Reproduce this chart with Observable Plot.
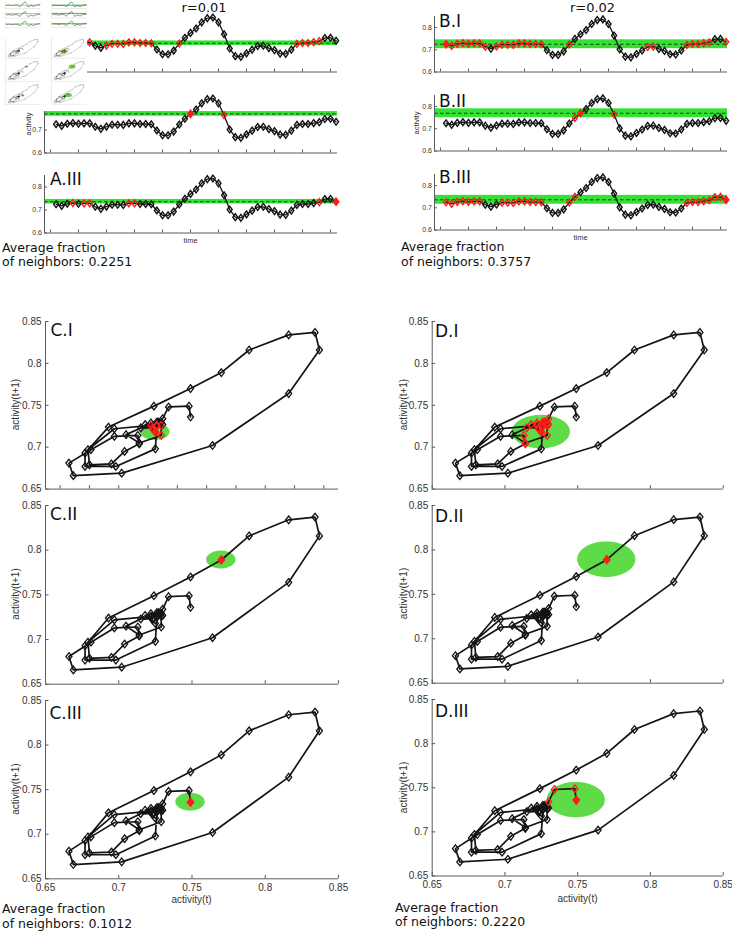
<!DOCTYPE html>
<html>
<head>
<meta charset="utf-8">
<script src="https://cdn.jsdelivr.net/npm/d3@7"></script>
<script src="https://cdn.jsdelivr.net/npm/@observablehq/plot@0.6"></script>
<style>
  html, body { margin: 0; padding: 0; background: #fff; }
  #fig { position: relative; width: 732px; height: 933px; overflow: hidden; background: #fff; }
</style>
</head>
<body>
<div id="fig"></div>
<script>
// ---------------- DATA ----------------
const activity = [0.725,0.718,0.727,0.730,0.727,0.729,0.729,0.714,0.705,0.715,
                  0.723,0.723,0.722,0.729,0.729,0.726,0.726,0.725,0.698,0.677,
                  0.677,0.693,0.724,0.749,0.770,0.789,0.816,0.834,0.837,0.816,
                  0.764,0.702,0.669,0.666,0.681,0.697,0.713,0.714,0.704,0.695,
                  0.680,0.679,0.697,0.722,0.726,0.726,0.730,0.734,0.748,0.749,0.736];
const radii = [0.01, 0.02];
const columnTitles = ["r=0.01", "r=0.02"];
const tsColumnLetters = ["A", "B"];
const phaseColumnLetters = ["C", "D"];
const rowNumerals = ["I", "II", "III"];
const tsReference = [0, 24, 50];      // reference point of each time-series row
const phaseReference = [0, 24, 49];   // reference point of each phase-plot row
const tsNeighbors = [
  [[0,1,2,3,4,5,6,9,10,11,12,13,14,15,16,17,22,43,44,45,46,47],
   [24,30],
   [3,5,6,13,14,47,50]],
  [[0,1,2,3,4,5,6,7,9,10,11,12,13,14,15,16,17,22,36,37,43,44,45,46,47,50],
   [23,24,30],
   [0,1,2,3,4,5,6,10,11,12,13,14,15,16,17,22,23,43,44,45,46,47,48,49,50]]
];
const tsAverageFraction = ["0.2251", "0.3757"];
const phaseAverageFraction = ["0.1012", "0.2220"];
const timeTicks = [0,5,10,15,20,25,30,35,40,45,50];
const tsYTicks = [0.6, 0.7, 0.8];
const phaseTicks = [0.65, 0.7, 0.75, 0.8, 0.85];
const phaseMinorTicks = [0.66, 0.68, 0.7, 0.72, 0.74, 0.76, 0.78, 0.8, 0.82, 0.84];

// ---------------- LAYOUT ----------------
const fig = document.getElementById("fig");
const SANS = "'DejaVu Sans', sans-serif";
const ARIAL = "'Liberation Sans', Arial, sans-serif";
const GREEN_BAND = "#33e233", GREEN_ELL = "#5edb47", RED = "#ff1a1a", INK = "#141414", AXIS = "#5a5a5a";

const tsXFrame = [[44, 337], [434, 727]];
const tsYFrame = [
  [{top: 13.5, bottom: 71}, {top: 95.2, bottom: 152.7}, {top: 175.2, bottom: 232.7}],
  [{top: 15.5, bottom: 71}, {top: 95.2, bottom: 150.7}, {top: 173.8, bottom: 229.3}]
];
const phXFrame = [[45, 338], [431.7, 722.7]];
const phYFrame = [
  [{top: 320.7, bottom: 488.3}, {top: 504.6, bottom: 683.3}, {top: 700, bottom: 878.3}],
  [{top: 320.7, bottom: 488.3}, {top: 504.6, bottom: 682.3}, {top: 699.2, bottom: 875.7}]
];
const tsXDomain = [-1.07, 51.25];

const diamondTS = {draw(ctx, size) { const r = Math.sqrt(size / Math.PI), w = r * 0.74;
  ctx.moveTo(0, -r); ctx.lineTo(w, 0); ctx.lineTo(0, r); ctx.lineTo(-w, 0); ctx.closePath(); }};
const diamondPh = {draw(ctx, size) { const r = Math.sqrt(size / Math.PI), w = r * 0.8;
  ctx.moveTo(0, -r); ctx.lineTo(w, 0); ctx.lineTo(0, r); ctx.lineTo(-w, 0); ctx.closePath(); }};

function place(svg, left, top) {
  svg.style.position = "absolute";
  svg.style.left = left + "px";
  svg.style.top = top + "px";
  fig.appendChild(svg);
}
const plotStyle = {background: "transparent", overflow: "visible", fontFamily: ARIAL, color: "#333"};

function tsPanel(col, row) {
  const colLeft = col * 366;
  const [fl, fr] = tsXFrame[col];
  const {top, bottom} = tsYFrame[col][row];
  const mt = 6, mb = 16;
  const r = radii[col];
  const ref = tsReference[row];
  const c = activity[ref];
  const nb = new Set(tsNeighbors[col][row]);
  const data = activity.map((v, i) => ({t: i + 1, v, i}));
  const x0 = tsXDomain[0];
  const svg = Plot.plot({
    width: 366, height: bottom - top + mt + mb,
    marginLeft: fl - colLeft, marginRight: colLeft + 366 - fr, marginTop: mt, marginBottom: mb,
    x: {domain: tsXDomain, axis: null},
    y: {domain: [0.6, 0.85]},
    style: plotStyle,
    marks: [
      Plot.rect([c], {x1: tsXDomain[0], x2: tsXDomain[1], y1: d => d - r, y2: d => d + r, fill: GREEN_BAND}),
      Plot.ruleY([c], {stroke: INK, strokeWidth: 0.8, strokeDasharray: "3.5,2.5"}),
      Plot.line(data, {x: "t", y: "v", stroke: INK, strokeWidth: 1.3}),
      Plot.dot(data.filter(d => !nb.has(d.i) && d.i !== ref), {x: "t", y: "v", symbol: diamondTS, r: 3.4, stroke: INK, strokeWidth: 1.4, fill: "none"}),
      Plot.dot(data.filter(d => nb.has(d.i) && d.i !== ref), {x: "t", y: "v", symbol: diamondTS, r: 3.4, stroke: RED, strokeWidth: 1.4, fill: "none"}),
      Plot.dot(data.filter(d => d.i === ref), {x: "t", y: "v", symbol: diamondTS, r: 3.6, stroke: RED, fill: RED}),
      Plot.ruleY([0.6], {stroke: AXIS, strokeWidth: 1}),
      Plot.ruleX([x0], {stroke: AXIS, strokeWidth: 1}),
      Plot.ruleX(timeTicks, {y1: 0.6, y2: 0.6, insetTop: -3, stroke: AXIS}),
      Plot.ruleY(tsYTicks, {x1: x0, x2: x0, insetRight: -3, stroke: AXIS}),
      Plot.axisY(tsYTicks, {tickSize: 0, tickPadding: 2.5, fontSize: 7, label: null, tickFormat: d => String(d)})
    ]
  });
  place(svg, colLeft, top - mt);
}

function phasePanel(col, row) {
  const colLeft = col * 366;
  const [fl, fr] = phXFrame[col];
  const {top, bottom} = phYFrame[col][row];
  const mt = 6, mb = 18;
  const r = radii[col];
  const pts = activity.slice(0, -1).map((v, i) => ({i, x: v, y: activity[i + 1]}));
  const refI = phaseReference[row];
  const cp = pts[refI];
  const near = d => d.i !== refI && Math.hypot(d.x - cp.x, d.y - cp.y) <= r;
  const ell = d3.range(0, 73).map(k => { const a = Math.PI * k / 72;
    return {x: cp.x + r * Math.cos(a), y1: cp.y - r * Math.sin(a), y2: cp.y + r * Math.sin(a)}; });
  const xt = (col === 0 && row === 0) ? phaseMinorTicks : phaseTicks;
  const marks = [
    Plot.areaY(ell, {x: "x", y1: "y1", y2: "y2", fill: GREEN_ELL}),
    Plot.line(pts, {x: "x", y: "y", stroke: INK, strokeWidth: 1.7}),
    Plot.dot(pts.filter(d => !near(d) && d.i !== refI), {x: "x", y: "y", symbol: diamondPh, r: 3.8, stroke: INK, strokeWidth: 1.3, fill: "none"}),
    Plot.dot(pts.filter(near), {x: "x", y: "y", symbol: diamondPh, r: 3.8, stroke: RED, strokeWidth: 1.3, fill: "none"}),
    Plot.dot([cp], {x: "x", y: "y", symbol: diamondPh, r: 3.9, stroke: RED, fill: RED}),
    Plot.ruleY([0.65], {stroke: AXIS}),
    Plot.ruleX([0.65], {stroke: AXIS}),
    Plot.ruleX(xt, {y1: 0.65, y2: 0.65, insetTop: -3.5, stroke: AXIS}),
    Plot.ruleY(phaseTicks, {x1: 0.65, x2: 0.65, insetRight: -3.5, stroke: AXIS}),
    Plot.axisY(phaseTicks, {tickSize: 0, tickPadding: 4, fontSize: 10, label: null, tickFormat: d => String(d)})
  ];
  if (row === 2) marks.push(Plot.axisX(phaseTicks, {tickSize: 0, tickPadding: 5, fontSize: 10, label: null, tickFormat: d => String(d)}));
  const svg = Plot.plot({
    width: 366, height: bottom - top + mt + mb,
    marginLeft: fl - colLeft, marginRight: colLeft + 366 - fr, marginTop: mt, marginBottom: mb,
    x: {domain: [0.65, 0.85], axis: row === 2 ? undefined : null},
    y: {domain: [0.65, 0.85]},
    style: plotStyle,
    marks
  });
  place(svg, colLeft, top - mt);
}

for (let col = 0; col < 2; col++) for (let row = 0; row < 3; row++) { tsPanel(col, row); phasePanel(col, row); }

// ---------------- TEXT OVERLAY ----------------
const overlay = d3.create("svg").attr("width", 732).attr("height", 933)
  .style("position", "absolute").style("left", "0px").style("top", "0px").style("pointer-events", "none");
function txt(s, x, y, size, font, opts = {}) {
  const t = overlay.append("text").attr("x", x).attr("y", y).attr("font-size", size)
    .attr("font-family", font).attr("fill", opts.fill || "#111").attr("text-anchor", opts.anchor || "start").text(s);
  if (opts.rotate) t.attr("transform", `rotate(-90 ${x} ${y})`);
  return t;
}
// column titles
txt(columnTitles[0], 204, 11.5, 13, SANS, {anchor: "middle"});
txt(columnTitles[1], 592.5, 11.5, 13, SANS, {anchor: "middle"});
// panel labels
const tsLabelPos = [[[49, 24.5], [49, 106], [50, 185]], [[439, 26.5], [439, 106.5], [439, 183.3]]];
const phLabelPos = [[[50.5, 336], [50, 520], [49.5, 719]], [[435, 336.5], [435, 522], [435, 717.3]]];
for (let col = 0; col < 2; col++) for (let row = 0; row < 3; row++) {
  const [x1, y1] = tsLabelPos[col][row];
  txt(`${tsColumnLetters[col]}.${rowNumerals[row]}`, x1, y1, 17, SANS);
  const [x2, y2] = phLabelPos[col][row];
  txt(`${phaseColumnLetters[col]}.${rowNumerals[row]}`, x2, y2, 17, SANS);
  const {top, bottom} = phYFrame[col][row];
  txt("activity(t+1)", col === 0 ? 19 : 407, (top + bottom) / 2, 10, ARIAL, {anchor: "middle", rotate: true, fill: "#333"});
}
// time-series axis titles
txt("activity", 31, 124, 7.5, ARIAL, {anchor: "middle", rotate: true, fill: "#333"});
txt("activity", 419, 123, 7.5, ARIAL, {anchor: "middle", rotate: true, fill: "#333"});
txt("time", 190.5, 242.5, 7.5, ARIAL, {anchor: "middle", fill: "#333"});
txt("time", 580.5, 240, 7.5, ARIAL, {anchor: "middle", fill: "#333"});
txt("activity(t)", 191.5, 903, 10, ARIAL, {anchor: "middle", fill: "#333"});
txt("activity(t)", 577.5, 901.5, 10, ARIAL, {anchor: "middle", fill: "#333"});
// average fraction notes
const notes = [
  [2, 251.5, tsAverageFraction[0]], [401, 251, tsAverageFraction[1]],
  [2, 913, phaseAverageFraction[0]], [395, 911.5, phaseAverageFraction[1]]
];
for (const [x, y, v] of notes) {
  txt("Average fraction", x, y, 12.5, SANS);
  txt(`of neighbors: ${v}`, x, y + 14.8, 12.5, SANS);
}
fig.appendChild(overlay.node());

// ---------------- THUMBNAIL (miniature copy of the figure's graphics, top-left) ----------------
const thumb = document.createElement("div");
thumb.style.cssText = "position:absolute;left:0;top:0;width:87px;height:111px;overflow:hidden;background:#fff;";
const mini = fig.cloneNode(true);
mini.removeAttribute("id");
mini.querySelectorAll("text").forEach(t => t.remove());
mini.style.cssText = "position:absolute;left:0;top:0;width:732px;height:933px;transform:scale(0.119);transform-origin:0 0;background:#fff;";
thumb.appendChild(mini);
fig.appendChild(thumb);
</script>
</body>
</html>
